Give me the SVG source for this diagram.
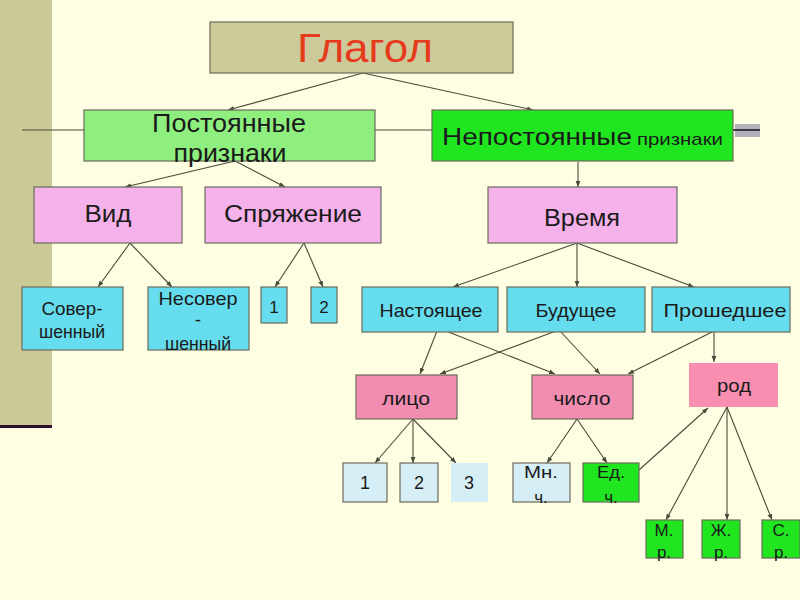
<svg xmlns="http://www.w3.org/2000/svg" width="800" height="600" viewBox="0 0 800 600">
<defs>
<marker id="ah" viewBox="0 0 10 10" refX="10" refY="5" markerWidth="6" markerHeight="6" orient="auto-start-reverse" markerUnits="userSpaceOnUse">
<path d="M0,1 L10,5 L0,9 z" fill="#4a4a3a"/>
</marker>
<style>
text{font-family:"Liberation Sans","DejaVu Sans",sans-serif;fill:#1a1a1a;text-anchor:middle}
.b{stroke:#6b6b5b;stroke-width:1.2}
.tan{fill:#CDCA9A}
.lg{fill:#8EEE7E}
.g{fill:#20E620}
.pk{fill:#F5B2EA}
.cy{fill:#66DDEE}
.rs{fill:#F28DB2}
.lb{fill:#D6EEF6}
.c line{stroke:#4a4a3a;stroke-width:1.1;fill:none}
.ar{marker-end:url(#ah)}
</style>
</defs>
<rect width="800" height="600" fill="#FEFEE2"/>
<rect x="0" y="0" width="52" height="425" fill="#CBC996"/>
<rect x="0" y="425" width="52" height="3" fill="#2D0F2A"/>
<rect x="735" y="124" width="25" height="13" fill="#B2B0BA"/>

<g class="c">
<line x1="22" y1="130" x2="84" y2="130"/>
<line x1="375" y1="130" x2="432" y2="130"/>
<line x1="733" y1="130" x2="760" y2="130" style="stroke:#3a3a4a;stroke-width:2"/>
<line class="ar" x1="363" y1="73" x2="228" y2="110"/>
<line class="ar" x1="363" y1="73" x2="533" y2="110"/>
<line class="ar" x1="235" y1="161" x2="125" y2="187"/>
<line class="ar" x1="235" y1="161" x2="285" y2="187"/>
<line class="ar" x1="578" y1="162" x2="578" y2="187"/>
<line class="ar" x1="130" y1="243" x2="98" y2="287"/>
<line class="ar" x1="130" y1="243" x2="172" y2="287"/>
<line class="ar" x1="304" y1="243" x2="275" y2="287"/>
<line class="ar" x1="304" y1="243" x2="323" y2="287"/>
<line class="ar" x1="577" y1="243" x2="453" y2="287"/>
<line class="ar" x1="577" y1="243" x2="577" y2="287"/>
<line class="ar" x1="577" y1="243" x2="694" y2="287"/>
<line class="ar" x1="437" y1="331" x2="420" y2="374"/>
<line class="ar" x1="446" y1="331" x2="555" y2="374"/>
<line class="ar" x1="556" y1="331" x2="440" y2="374"/>
<line class="ar" x1="560" y1="331" x2="600" y2="374"/>
<line class="ar" x1="714" y1="331" x2="628" y2="374"/>
<line class="ar" x1="714" y1="331" x2="714" y2="362"/>
<line class="ar" x1="413" y1="419" x2="375" y2="463"/>
<line class="ar" x1="413" y1="419" x2="413" y2="463"/>
<line class="ar" x1="413" y1="419" x2="456" y2="463"/>
<line class="ar" x1="577" y1="419" x2="547" y2="463"/>
<line class="ar" x1="577" y1="419" x2="607" y2="463"/>
<line class="ar" x1="639" y1="470" x2="708" y2="408"/>
<line class="ar" x1="727" y1="407" x2="666" y2="520"/>
<line class="ar" x1="727" y1="407" x2="727" y2="520"/>
<line class="ar" x1="727" y1="407" x2="772" y2="520"/>
</g>

<g id="glagol"><rect class="b tan" x="210" y="22" width="303" height="51"/><text x="365" y="62" font-size="40" textLength="136" lengthAdjust="spacingAndGlyphs" style="fill:#E63A1C">Глагол</text></g>
<g id="post"><rect class="b lg" x="84" y="110" width="291" height="51"/><text x="229" y="132" font-size="26" textLength="154" lengthAdjust="spacingAndGlyphs">Постоянные</text><text x="230" y="162" font-size="26" textLength="113" lengthAdjust="spacingAndGlyphs">признаки</text></g>
<g id="nepost"><rect class="b g" x="432" y="110" width="301" height="51"/><text x="537" y="145" font-size="24" textLength="190" lengthAdjust="spacingAndGlyphs">Непостоянные</text><text x="680" y="145" font-size="17" textLength="86" lengthAdjust="spacingAndGlyphs">признаки</text></g>
<g id="vid"><rect class="b pk" x="34" y="187" width="148" height="56"/><text x="108" y="222" font-size="24" textLength="47" lengthAdjust="spacingAndGlyphs">Вид</text></g>
<g id="spr"><rect class="b pk" x="205" y="187" width="176" height="56"/><text x="293" y="222" font-size="24" textLength="138" lengthAdjust="spacingAndGlyphs">Спряжение</text></g>
<g id="vremya"><rect class="b pk" x="488" y="187" width="189" height="56"/><text x="582" y="226" font-size="24" textLength="76" lengthAdjust="spacingAndGlyphs">Время</text></g>
<g id="sov"><rect class="b cy" x="22" y="287" width="101" height="63"/><text x="72" y="315" font-size="19" textLength="61" lengthAdjust="spacingAndGlyphs">Совер-</text><text x="72" y="338" font-size="19" textLength="66" lengthAdjust="spacingAndGlyphs">шенный</text></g>
<g id="nesov"><rect class="b cy" x="148" y="287" width="101" height="63"/><text x="198" y="305" font-size="19" textLength="79" lengthAdjust="spacingAndGlyphs">Несовер</text><text x="198" y="326" font-size="19">-</text><text x="198" y="350" font-size="19" textLength="66" lengthAdjust="spacingAndGlyphs">шенный</text></g>
<g id="s1"><rect class="b cy" x="261" y="287" width="26" height="36"/><text x="274" y="313" font-size="17">1</text></g>
<g id="s2"><rect class="b cy" x="311" y="287" width="26" height="36"/><text x="324" y="313" font-size="17">2</text></g>
<g id="nast"><rect class="b cy" x="362" y="287" width="136" height="45"/><text x="431" y="317" font-size="19" textLength="103" lengthAdjust="spacingAndGlyphs">Настоящее</text></g>
<g id="bud"><rect class="b cy" x="507" y="287" width="138" height="45"/><text x="576" y="317" font-size="19" textLength="81" lengthAdjust="spacingAndGlyphs">Будущее</text></g>
<g id="prosh"><rect class="b cy" x="652" y="287" width="138" height="45"/><text x="725" y="317" font-size="19" textLength="123" lengthAdjust="spacingAndGlyphs">Прошедшее</text></g>
<g id="lico"><rect class="b rs" x="356" y="375" width="101" height="44"/><text x="406" y="405" font-size="19" textLength="48" lengthAdjust="spacingAndGlyphs">лицо</text></g>
<g id="chislo"><rect class="b rs" x="532" y="375" width="101" height="44"/><text x="582" y="405" font-size="19" textLength="57" lengthAdjust="spacingAndGlyphs">число</text></g>
<g id="rod"><rect x="689" y="363" width="89" height="44" fill="#F98FB0"/><text x="734" y="392" font-size="19" textLength="34" lengthAdjust="spacingAndGlyphs">род</text></g>
<g id="l1"><rect class="b lb" x="343" y="463" width="44" height="39"/><text x="365" y="489" font-size="18">1</text></g>
<g id="l2"><rect class="b lb" x="400" y="463" width="38" height="39"/><text x="419" y="489" font-size="18">2</text></g>
<g id="l3"><rect class="lb" x="451" y="463" width="37" height="39"/><text x="469" y="489" font-size="18">3</text></g>
<g id="mn"><rect class="b lb" x="513" y="463" width="57" height="39"/><text x="541" y="478" font-size="17" textLength="34" lengthAdjust="spacingAndGlyphs">Мн.</text><text x="541" y="503" font-size="17">ч.</text></g>
<g id="ed"><rect class="b g" x="583" y="463" width="56" height="39"/><text x="611" y="478" font-size="17" textLength="28" lengthAdjust="spacingAndGlyphs">Ед.</text><text x="611" y="503" font-size="17">ч.</text></g>
<g id="mr"><rect class="b g" x="646" y="520" width="37" height="38"/><text x="664" y="536" font-size="17">М.</text><text x="664" y="558" font-size="17">р.</text></g>
<g id="zr"><rect class="b g" x="702" y="520" width="38" height="38"/><text x="721" y="536" font-size="17">Ж.</text><text x="721" y="558" font-size="17">р.</text></g>
<g id="sr"><rect class="b g" x="762" y="520" width="38" height="38"/><text x="781" y="536" font-size="17">С.</text><text x="781" y="558" font-size="17">р.</text></g>
</svg>
